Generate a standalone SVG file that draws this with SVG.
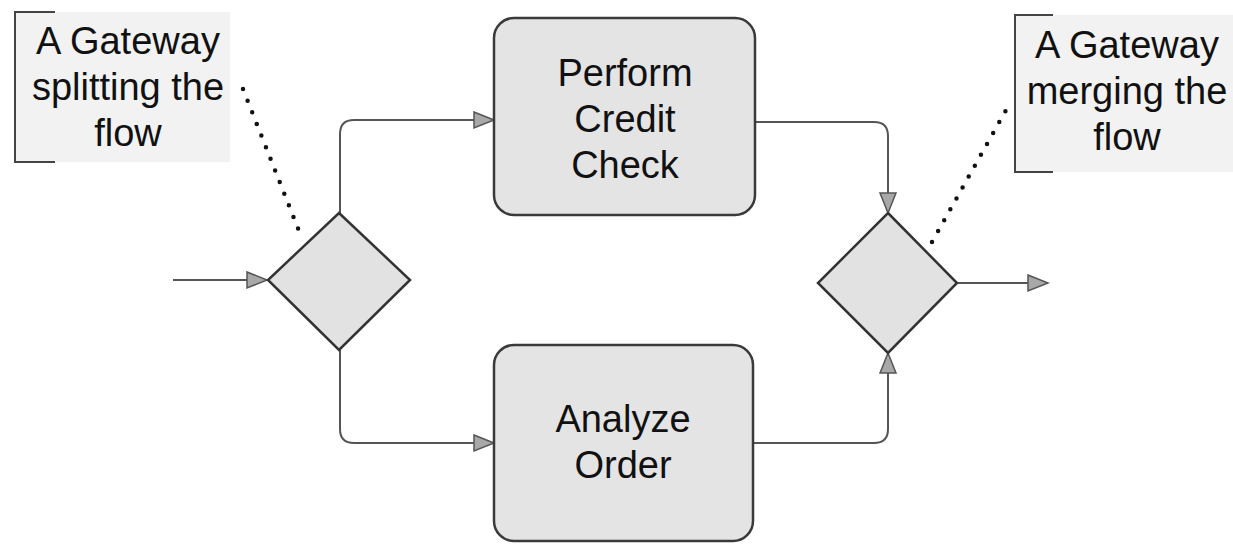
<svg xmlns="http://www.w3.org/2000/svg" width="1233" height="544" viewBox="0 0 1233 544">
<style>
.box{fill:#e4e4e4;stroke:#3a3a3a;stroke-width:2.5}
.gw{fill:#e2e2e2;stroke:#333;stroke-width:2.5}
.conn{fill:none;stroke:#555;stroke-width:2}
.dot{fill:none;stroke:#111;stroke-width:4.5;stroke-linecap:round;stroke-dasharray:0 12.5}
.br{fill:none;stroke:#444;stroke-width:2}
.ann{fill:#f2f2f2;stroke:none}
.t{font-family:"Liberation Sans",Arial,sans-serif;font-size:38px;fill:#111;text-anchor:middle}
</style>
<defs>
<marker id="arr" markerUnits="userSpaceOnUse" markerWidth="24" markerHeight="20" refX="21" refY="9" orient="auto">
<path d="M1,1 L21,9 L1,17 z" fill="#a8a8a8" stroke="#555" stroke-width="1.5"/>
</marker>
</defs>
<rect width="1233" height="544" fill="#ffffff"/>
<g id="annotation-split">
<rect class="ann" x="15" y="12" width="215" height="150"/>
<path class="br" d="M55,12 L15,12 L15,162 L55,162"/>
<text class="t" x="128" y="54">A Gateway</text>
<text class="t" x="128" y="100">splitting the</text>
<text class="t" x="128" y="146">flow</text>
</g>
<g id="annotation-merge">
<rect class="ann" x="1015" y="15" width="218" height="157"/>
<path class="br" d="M1053,15 L1015,15 L1015,172 L1053,172"/>
<text class="t" x="1127" y="58">A Gateway</text>
<text class="t" x="1127" y="104">merging the</text>
<text class="t" x="1127" y="150">flow</text>
</g>
<g id="connectors">
<path class="conn" d="M173,280 L267,280" marker-end="url(#arr)"/>
<path class="conn" d="M340,213 L340,134 Q340,120 354,120 L494,120" marker-end="url(#arr)"/>
<path class="conn" d="M340,350 L340,429 Q340,443 354,443 L494,443" marker-end="url(#arr)"/>
<path class="conn" d="M755,122 L874,122 Q888,122 888,136 L888,213" marker-end="url(#arr)"/>
<path class="conn" d="M753,443 L874,443 Q888,443 888,429 L888,353" marker-end="url(#arr)"/>
<path class="conn" d="M957,283 L1048,283" marker-end="url(#arr)"/>
<path class="dot" d="M243,89 L301,236"/>
<path class="dot" d="M932,242 L1010,103"/>
</g>
<g id="gateway-split">
<polygon class="gw" points="339,213 410,280 339,350 268,280"/>
</g>
<g id="task-credit">
<rect class="box" x="494" y="18" width="261" height="197" rx="20"/>
<text class="t" x="625" y="86">Perform</text>
<text class="t" x="625" y="132">Credit</text>
<text class="t" x="625" y="178">Check</text>
</g>
<g id="task-analyze">
<rect class="box" x="494" y="345" width="259" height="196" rx="20"/>
<text class="t" x="623" y="432">Analyze</text>
<text class="t" x="623" y="478">Order</text>
</g>
<g id="gateway-merge">
<polygon class="gw" points="888,213 957,283 888,353 818,283"/>
</g>
</svg>
